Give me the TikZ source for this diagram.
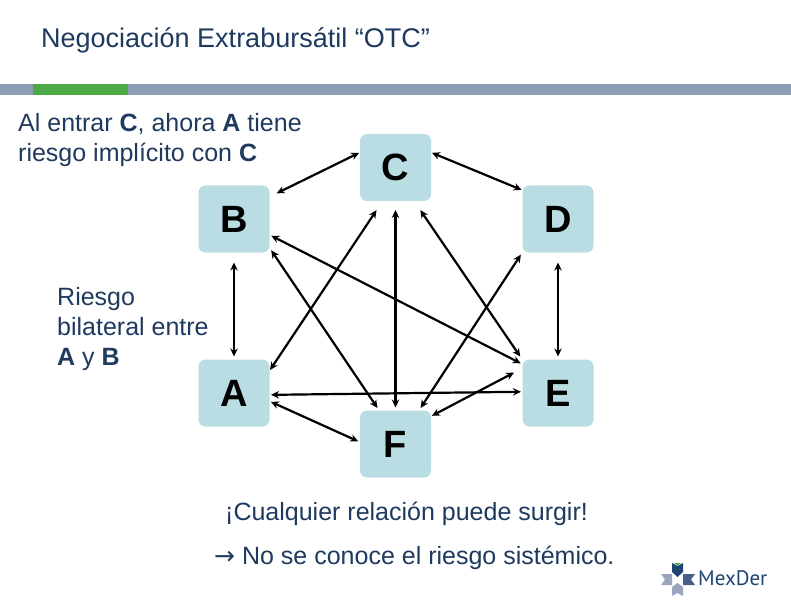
\documentclass[tikz,border=0pt]{standalone}
\usepackage{fontspec}
\setmainfont{Liberation Sans}
\newfontfamily\logofont{PT Sans}
\newfontfamily\arrowfont{DejaVu Sans}
\usetikzlibrary{arrows.meta}
\definecolor{barblue}{HTML}{8C9DB4}
\definecolor{bargreen}{HTML}{4CAA46}
\definecolor{boxblue}{HTML}{B9DDE3}
\definecolor{notenavy}{HTML}{1F3A5F}
\definecolor{logonavy}{HTML}{1F4573}
\definecolor{logoslate}{HTML}{4A5F85}
\definecolor{logogray}{HTML}{9AA5BD}
\tikzset{
  party/.style={draw=none,fill=boxblue,rounded corners=7pt,minimum width=71pt,minimum height=67pt,inner sep=0pt,outer sep=0pt,text=black,font=\fontsize{38}{38}\selectfont\bfseries},
  link/.style={<->,>={Stealth[length=8pt,width=7.5pt]},line width=2.2pt,black},
  note/.style={anchor=base west,inner sep=0pt,text=notenavy,font=\fontsize{25}{25}\selectfont},
}
\begin{document}
\begin{tikzpicture}[x=1pt,y=-1pt]
\useasboundingbox (0,0) rectangle (791,612);
\fill[white] (0,0) rectangle (791,612);
\fill[barblue] (0,84) rectangle (791,95);
\fill[bargreen] (33,84) rectangle (128,95);
\node[note,font=\fontsize{27}{27}\selectfont] (title) at (41,47.5) {Negociación Extrabursátil “OTC”};
\node[note] (entrar) at (18,132) {Al entrar \textbf{C}, ahora \textbf{A} tiene};
\node[note] (implicito) at (18,162) {riesgo implícito con \textbf{C}};
\node[note] (riesgo) at (57,305) {Riesgo};
\node[note] (bilateral) at (57,335) {bilateral entre};
\node[note] (ayb) at (57,365) {\textbf{A} y \textbf{B}};
\node[note] (surgir) at (225,520) {¡Cualquier relación puede surgir!};
\node[note] (sistemico) at (214,564) {{\arrowfont →} No se conoce el riesgo sistémico.};
\node[party] (C) at (395.5,167.5) {C};
\node[party] (B) at (234,219) {B};
\node[party] (D) at (558,219) {D};
\node[party] (A) at (234,393) {A};
\node[party] (E) at (558,393) {E};
\node[party] (F) at (395.5,444) {F};
\draw[link,shorten <=1pt,shorten >=8pt] (C.157) -- (B.32);
\draw[link,shorten <=1pt,shorten >=1pt] (C.23) -- (D.141);
\draw[link,shorten <=10pt,shorten >=3pt] (B.south) -- (A.north);
\draw[link,shorten <=10pt,shorten >=3pt] (D.south) -- (E.north);
\draw[link,shorten <=9pt,shorten >=3pt] (C.south) -- (F.north);
\draw[link,shorten <=11pt,shorten >=1pt] (C.249.5) -- (A.32);
\draw[link,shorten <=11pt,shorten >=4pt] (C.-61) -- (E.137);
\draw[link,shorten <=2pt,shorten >=2pt] (B.-24) -- (E.141);
\draw[link,shorten <=3pt,shorten >=3pt] (B.-39) -- (F.116.6);
\draw[link,shorten <=3pt,shorten >=3pt] (D.223) -- (F.55.5);
\draw[link,shorten <=1.5pt,shorten >=1.5pt] (A.-3) -- (E.178.4);
\draw[link,shorten <=1.5pt,shorten >=2pt] (A.-13) -- (F.177);
\draw[link,shorten <=9.5pt,shorten >=1pt] (E.145.5) -- (F.38.7);
% logo
\fill[logonavy] (672,563) -- (677.5,566) -- (683,563) -- (683,572) -- (677.5,577) -- (672,572) -- cycle;
\fill[bargreen] (674,563) -- (681,563) -- (677.5,565.5) -- cycle;
\fill[logogray] (661,574) -- (672,574) -- (672,585) -- (661,585) -- (665,579.5) -- cycle;
\fill[logoslate] (683,574) -- (695,574) -- (691,579.5) -- (695,585) -- (683,585) -- cycle;
\fill[logogray] (677.5,583) -- (683,587) -- (683,596) -- (677.5,593) -- (672,596) -- (672,587) -- cycle;
\node[note,text=logonavy,font=\logofont\fontsize{21}{21}\selectfont] (logo) at (698,585) {MexDer};
\end{tikzpicture}
\end{document}
